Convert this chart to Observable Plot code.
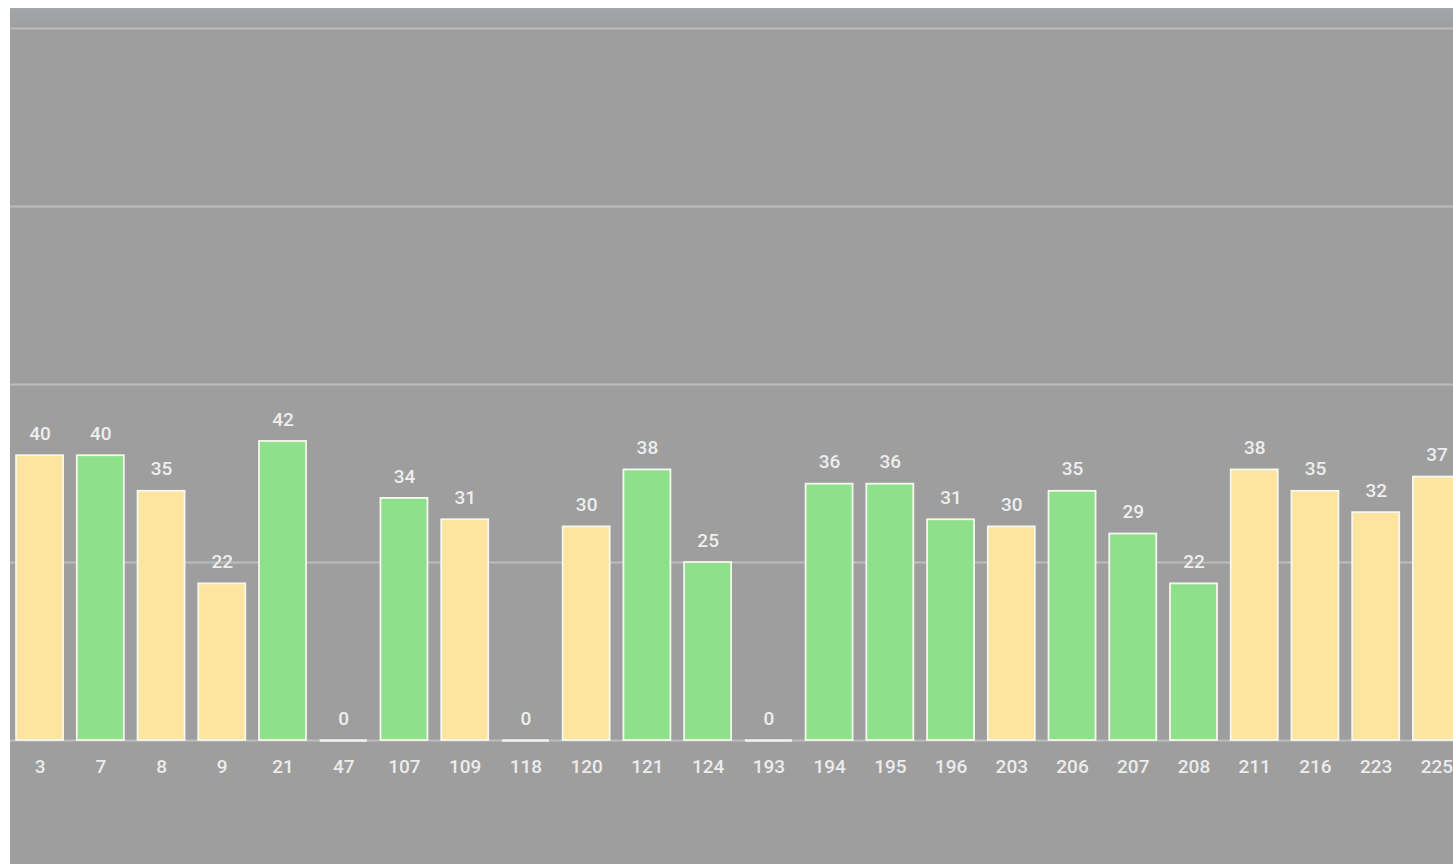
<!DOCTYPE html>
<html>
<head>
<meta charset="utf-8">
<script src="https://cdn.jsdelivr.net/npm/d3@7"></script>
<script src="https://cdn.jsdelivr.net/npm/@observablehq/plot@0.6"></script>
<style>
  html, body { margin: 0; padding: 0; background: #ffffff; overflow: hidden; }
  #wrap { position: absolute; left: 10px; top: 8px; width: 1460px; height: 856px; background: #9e9e9e; }
  #wrap::before { content: ""; position: absolute; left: 0; top: 0; width: 100%; height: 20px;
    background: linear-gradient(#a4a6ae, #9e9e9c); }
  #wrap svg { position: absolute; left: 0; top: 0; }
</style>
</head>
<body>
<div id="wrap"></div>
<script>
const categories = ["3","7","8","9","21","47","107","109","118","120","121","124","193","194","195","196","203","206","207","208","211","216","223","225"];
const values = [40,40,35,22,42,0,34,31,0,30,38,25,0,36,36,31,30,35,29,22,38,35,32,37];
const groups = ["y","g","y","y","g","y","g","y","y","y","g","g","y","g","g","g","y","g","g","g","y","y","y","y"];
const yTicks = [0,25,50,75,100];

const data = categories.map((c, i) => ({cat: c, value: values[i], group: groups[i]}));

const chart = Plot.plot({
  width: 1456,
  height: 856,
  marginLeft: 0,
  marginRight: 0,
  marginTop: 20,
  marginBottom: 124,
  style: {background: "transparent", fontFamily: "Roboto, sans-serif", fontSize: "19px", color: "#ececec", overflow: "visible"},
  x: {domain: categories, paddingInner: 0.226, paddingOuter: 0.1, round: false, label: null},
  y: {domain: [0, 100], label: null},
  color: {domain: ["y", "g"], range: ["#fee59f", "#8ee08a"]},
  marks: [
    Plot.ruleY(yTicks, {stroke: "#bcbcbc", strokeWidth: 2}),
    Plot.barY(data, {x: "cat", y: "value", fill: "group", stroke: "#f4f8ee", strokeWidth: 1.8}),
    Plot.tickY(data.filter(d => d.value === 0), {x: "cat", y: 0, stroke: "#f2f2f2", strokeWidth: 2.5}),
    Plot.text(data, {x: "cat", y: "value", text: d => String(d.value), dy: -22, fill: "#eeeeee", fontSize: 19, fontWeight: 500}),
    Plot.axisX({tickSize: 0, tickPadding: 19, fill: "#ececec", fontSize: 19, fontWeight: 500, label: null}),
    Plot.axisY({ticks: [], label: null})
  ]
});
document.getElementById("wrap").appendChild(chart);
</script>
</body>
</html>
